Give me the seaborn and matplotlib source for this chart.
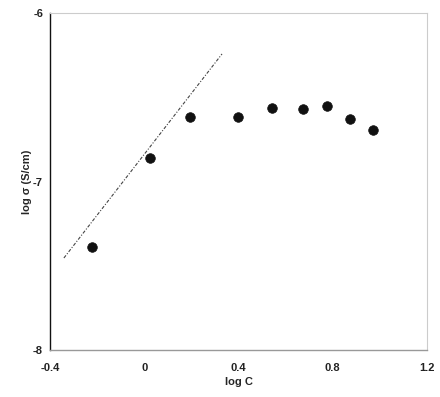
import matplotlib
matplotlib.use("Agg")
import matplotlib.pyplot as plt
import seaborn as sns
import pandas as pd

log_c = [-0.222, 0.024, 0.194, 0.397, 0.543, 0.675, 0.774, 0.873, 0.972]
log_sigma = [-7.39, -6.86, -6.617, -6.615, -6.562, -6.572, -6.552, -6.627, -6.694]
fit_x = [-0.341, 0.330]
fit_y = [-7.454, -6.243]
x_ticks = [-0.4, 0, 0.4, 0.8, 1.2]
x_tick_labels = ["-0.4", "0", "0.4", "0.8", "1.2"]
y_ticks = [-8, -7, -6]
y_tick_labels = ["-8", "-7", "-6"]

sns.set_style("white")
plt.rcParams['font.family'] = ['Liberation Sans', 'DejaVu Sans']

fig = plt.figure(figsize=(4.40, 3.97), dpi=100)
ax = fig.add_axes([50/440, 1-350/397, 377/440, 337/397])

pts = pd.DataFrame({"x": log_c, "y": log_sigma})
fit = pd.DataFrame({"x": fit_x, "y": fit_y})

sns.lineplot(data=fit, x="x", y="y", ax=ax, color="#444444", lw=0.8,
             linestyle=(0, (3, 1.5, 1, 1.5)))
sns.scatterplot(data=pts, x="x", y="y", ax=ax, color="#111111", s=48,
                edgecolor="#111111", linewidth=0.5, zorder=3)

ax.set_xlim(-0.4, 1.2)
ax.set_ylim(-8, -6)
ax.set_xticks(x_ticks)
ax.set_xticklabels(x_tick_labels, fontweight="bold", fontsize=8, color="#222222")
ax.set_yticks(y_ticks)
ax.set_yticklabels(y_tick_labels, fontweight="bold", fontsize=8, color="#222222")
ax.tick_params(axis="x", direction="inout", length=5, width=0.8, color="#888888", pad=7)
ax.tick_params(axis="y", direction="out", length=3, width=0.8, color="#222222", pad=2)
ax.set_xlabel("log C", fontweight="bold", fontsize=8, labelpad=3)
ax.set_ylabel("log σ (S/cm)", fontweight="bold", fontsize=8, labelpad=1)

ax.spines["left"].set_color("#111111")
ax.spines["left"].set_linewidth(1.0)
ax.spines["bottom"].set_color("#999999")
ax.spines["bottom"].set_linewidth(1.0)
for s in ("top", "right"):
    ax.spines[s].set_color("#cccccc")
    ax.spines[s].set_linewidth(0.8)

fig.savefig("out.png", dpi=100)
